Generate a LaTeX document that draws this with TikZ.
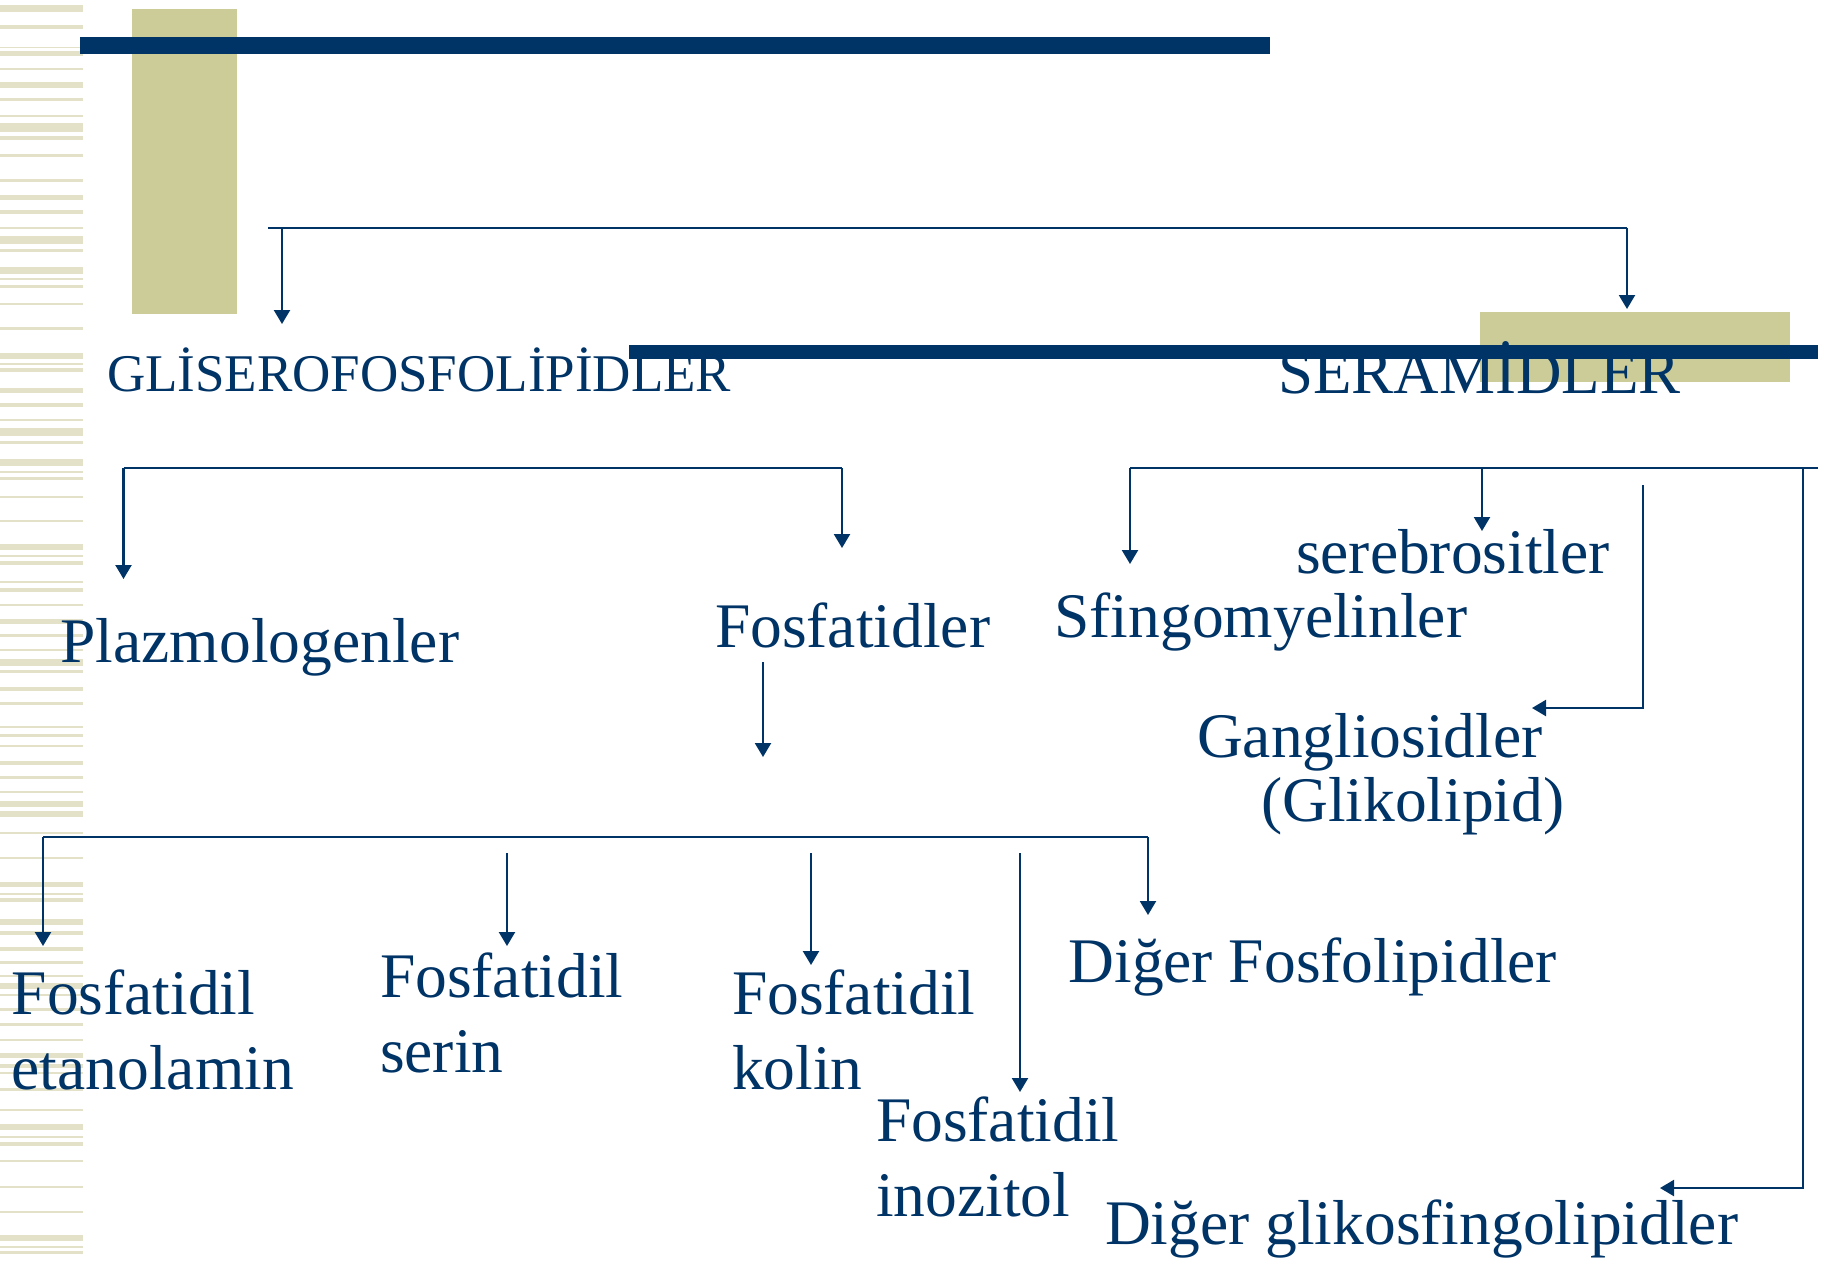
\documentclass[tikz,border=0pt]{standalone}
\usepackage{fontspec}
\setmainfont{Liberation Serif}
\usetikzlibrary{arrows.meta}
\definecolor{navy}{RGB}{0,51,102}
\definecolor{khaki}{RGB}{204,204,153}
\definecolor{stripecol}{RGB}{227,226,200}
\newcommand{\twolines}[2]{\vtop{\hbox{#1}\hbox{#2}}}
\begin{document}
\begin{tikzpicture}[x=0.5pt,y=-0.5pt,
  conn/.style={draw=navy,line width=1.1pt},
  arr/.style={conn,-{Triangle[width=8pt,length=7pt]}},
  lbl/.style={anchor=base west,inner sep=0pt,outer sep=0pt,text=navy,font=\fontsize{31.75}{37.5}\selectfont},
  head/.style={lbl,font=\fontsize{26.5}{30}\selectfont},
  bigbar/.style={fill=navy},
  block/.style={fill=khaki}]
\useasboundingbox (0,0) rectangle (1827,1260);
% left stripes
\foreach \a/\b in {4.8/12,25/28.5,46.6/48,51/55.5,67.5/70,82/87.6,97.6/101,114.5/116.5,123/132,136/139.5,154/157,179/181.5,195/200,210/214,227/229,236/244,249/252,267/274,278/280,284.5/287.6,303/305,327/329.5,352.7/358.8,363/365,367.6/371.6,387.7/393,403/406.6,419/421,428/435.5,440.7/444,458.8/466,471/473,477/480,495.8/498,519.5/521.5,544/550,555/557,560.5/564.5,581/583,588/592,604/606,618.7/623.5,634/637,649/651,659/666,670/673,687/691,702/705,726/728,734/737,745/747,761/765,776/779,791/792.5,801/807,811/817,832/834,857/859,882/887,893/895,898/902,918.5/925,931/934.5,947/951,960.6/963.5,974.7/976.7,982.7/988.8,993.6/996.4,1007.7/1011,1022.5/1025.7,1039/1041,1052.6/1058,1064/1068,1072/1074,1088/1091,1109/1111,1124/1130,1136/1138,1142/1145.5,1159.5/1161.5,1185.6/1187.6,1210.5/1212.5,1234.7/1240.7,1245.5/1247.5,1250.7/1253.5}
  \fill[stripecol] (0,\a) rectangle (83,\b);
% decorative blocks
\fill[block] (132,9) rectangle (237,314);
\fill[bigbar] (80,37) rectangle (1270,54);
\fill[block] (1480,312) rectangle (1790,382);
% headings
\node[head] (gli) at (107,391) {GLİSEROFOSFOLİPİDLER};
\node[lbl,font=\fontsize{31.5}{38}\selectfont] (ser) at (1278,393) {SERAMİDLER};
\fill[bigbar] (629,345) rectangle (1818,359);
% level 2 labels
\node[lbl] (plaz) at (60.6,662) {Plazmologenler};
\node[lbl] (fosf) at (715,647) {Fosfatidler};
\node[lbl] (sereb) at (1296,573) {serebrositler};
\node[lbl] (sfin) at (1054.5,637) {Sfingomyelinler};
\node[lbl] (gang) at (1197,757) {Gangliosidler};
\node[lbl] (glik) at (1261,821) {(Glikolipid)};
\node[lbl] (diggl) at (1105,1244) {Diğer glikosfingolipidler};
% level 3 labels
\node[lbl] (fe) at (11.7,1014) {\twolines{Fosfatidil}{etanolamin}};
\node[lbl] (fs) at (380,997) {\twolines{Fosfatidil}{serin}};
\node[lbl] (fk) at (732,1014) {\twolines{Fosfatidil}{kolin}};
\node[lbl] (fi) at (876,1141) {\twolines{Fosfatidil}{inozitol}};
\node[lbl] (digf) at (1068.5,982) {Diğer Fosfolipidler};
% connector 1
\coordinate (t1l) at (268,228);
\coordinate (t1r) at (1627,228);
\coordinate (t1a) at (282,228);
\coordinate (tipGli) at (282,324);
\coordinate (tipSer) at (1627,309);
\draw[conn] (t1l) -- (t1r);
\draw[arr] (t1a) -- (tipGli);
\draw[arr] (t1r) -- (tipSer);
% connector 2
\coordinate (c2l) at (123.5,468);
\coordinate (c2r) at (842,468);
\coordinate (tipPlaz) at (123.5,579);
\coordinate (tipFosf) at (842,548);
\draw[conn] (c2l) -- (c2r);
\draw[arr] (c2l) -- (tipPlaz);
\draw[arr] (c2r) -- (tipFosf);
\coordinate (f0) at (763,662);
\coordinate (f1) at (763,757);
\draw[arr] (f0) -- (f1);
% connector 3
\coordinate (c3l) at (1130,468);
\coordinate (c3r) at (1818,468);
\coordinate (c3m) at (1482,468);
\coordinate (c3v) at (1803,468);
\coordinate (c3b) at (1803,1188);
\coordinate (tipSfin) at (1130,564);
\coordinate (tipSereb) at (1482,531);
\coordinate (tipDiggl) at (1660,1188);
\draw[conn] (c3l) -- (c3r);
\draw[arr] (c3l) -- (tipSfin);
\draw[arr] (c3m) -- (tipSereb);
\draw[arr] (c3v) -- (c3b) -- (tipDiggl);
\coordinate (g0) at (1643,485);
\coordinate (g1) at (1643,708);
\coordinate (tipGang) at (1532,708);
\draw[arr] (g0) -- (g1) -- (tipGang);
% connector 4
\coordinate (c4l) at (43,837);
\coordinate (c4r) at (1148,837);
\coordinate (tipFe) at (43,946);
\coordinate (tipDigf) at (1148,915);
\draw[conn] (c4l) -- (c4r);
\draw[arr] (c4l) -- (tipFe);
\draw[arr] (c4r) -- (tipDigf);
\coordinate (s0) at (507,853);
\coordinate (tipFs) at (507,946);
\coordinate (k0) at (811,853);
\coordinate (tipFk) at (811,965);
\coordinate (i0) at (1020,853);
\coordinate (tipFi) at (1020,1092);
\draw[arr] (s0) -- (tipFs);
\draw[arr] (k0) -- (tipFk);
\draw[arr] (i0) -- (tipFi);
\end{tikzpicture}
\end{document}
